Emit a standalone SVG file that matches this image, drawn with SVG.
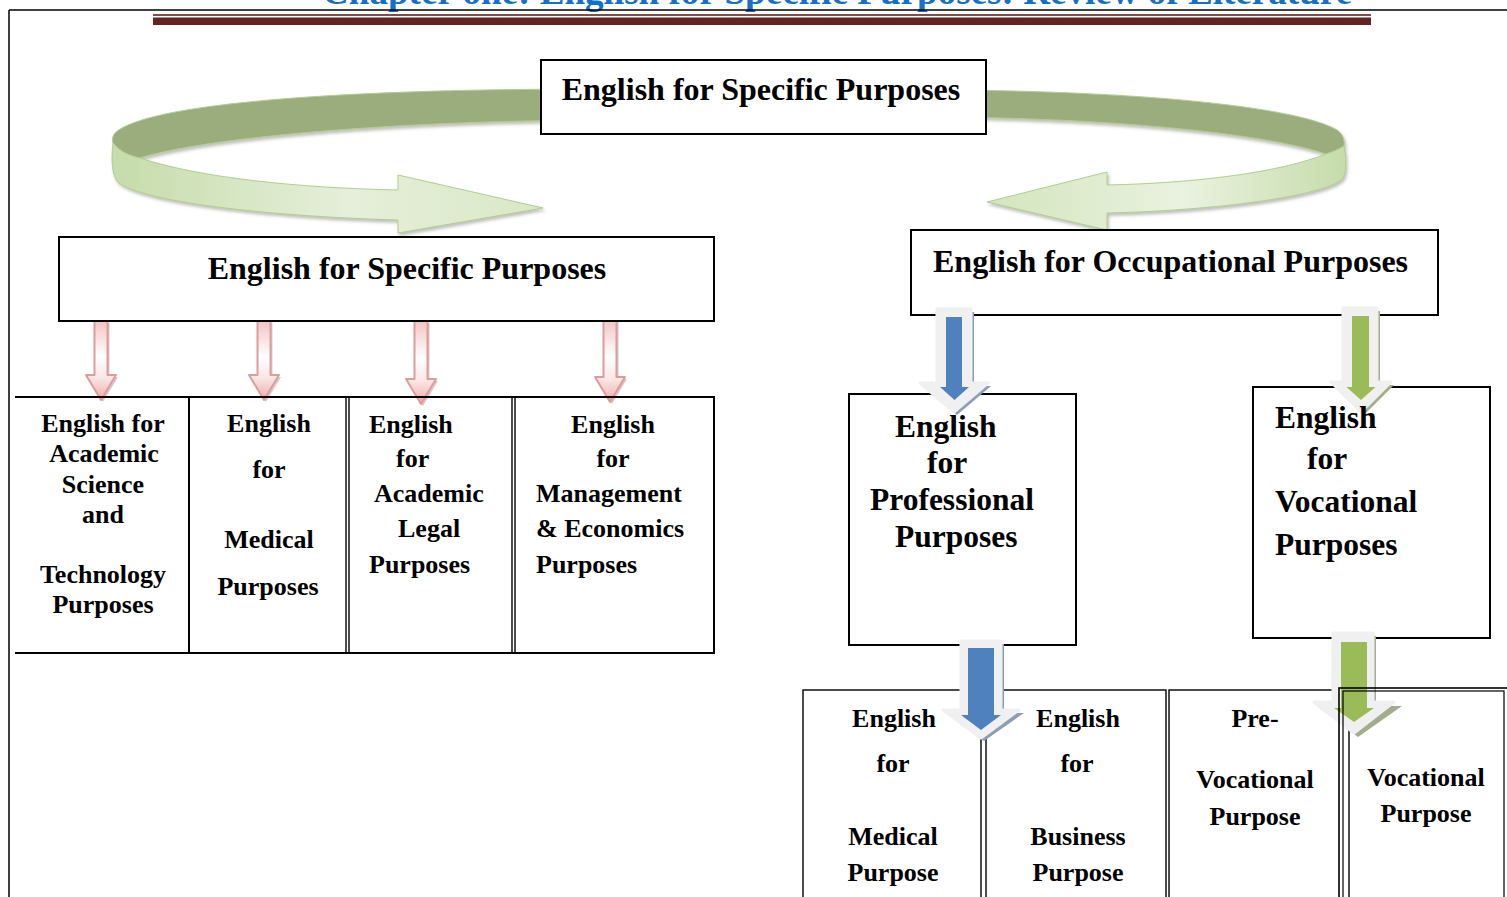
<svg xmlns="http://www.w3.org/2000/svg" width="1507" height="897" viewBox="0 0 1507 897">
  <defs>
    <style>
      text { font-family: "Liberation Serif", "Times New Roman", serif; font-weight: bold; fill: #000; }
      .h32 { font-size: 32px; }
      .t26 { font-size: 26px; }
      .t31 { font-size: 31.5px; }
      .mid { text-anchor: middle; }
      .box { fill: #fff; stroke: #000; stroke-width: 2; }
      .line { stroke: #000; stroke-width: 2; fill: none; }
      .thin { stroke: #000; stroke-width: 1.4; fill: none; }
      .ring-dark { fill: #9bad7c; stroke: #b4cc93; stroke-width: 1; }
      .ring-light { stroke: #b3cd90; stroke-width: 1; }
      .pink { fill: url(#pinkFill); stroke: #de9c9c; stroke-width: 2; stroke-linejoin: round; }
      .pink-shadow { fill: #b99a9a; opacity: 0.55; }
      .halo { fill: #f0f0f0; stroke: #f0f0f0; stroke-width: 3; stroke-linejoin: round; }
      .shadow-blue { fill: #8e9db6; }
      .shadow-green { fill: #a3ad8b; }
      .core-blue { fill: #4f81bd; }
      .core-green { fill: #9bbb59; }
    </style>
    <linearGradient id="lightLeft" x1="112" y1="0" x2="543" y2="0" gradientUnits="userSpaceOnUse">
      <stop offset="0" stop-color="#c6dcaa"/>
      <stop offset="0.55" stop-color="#e6efda"/>
      <stop offset="1" stop-color="#d9e8c6"/>
    </linearGradient>
    <linearGradient id="lightRight" x1="1346" y1="0" x2="987" y2="0" gradientUnits="userSpaceOnUse">
      <stop offset="0" stop-color="#c6dcaa"/>
      <stop offset="0.45" stop-color="#eaf2e0"/>
      <stop offset="1" stop-color="#d3e5bd"/>
    </linearGradient>
    <linearGradient id="pinkFill" x1="0" y1="0" x2="0" y2="1">
      <stop offset="0" stop-color="#f3c4c4"/>
      <stop offset="0.45" stop-color="#ffffff"/>
      <stop offset="0.72" stop-color="#fbe6e6"/>
      <stop offset="1" stop-color="#eeaaaa"/>
    </linearGradient>
    <filter id="soft" x="-10%" y="-10%" width="120%" height="130%">
      <feDropShadow dx="1.5" dy="2.5" stdDeviation="1.5" flood-color="#6f7466" flood-opacity="0.45"/>
    </filter>
  </defs>

  <!-- page header -->
  <g id="header">
    <text x="322" y="4" font-size="37" textLength="1030" lengthAdjust="spacingAndGlyphs" style="fill:#1670c4">Chapter one: English for Specific Purposes: Review of Literature</text>
    <line x1="9" y1="10" x2="1507" y2="10" stroke="#000" stroke-width="1.5"/>
    <line x1="9" y1="10" x2="9" y2="897" stroke="#000" stroke-width="1.5"/>
    <rect x="153" y="14.2" width="1218" height="1.6" fill="#632423"/>
    <rect x="153" y="17.5" width="1218" height="7.5" fill="#632423"/>
  </g>

  <!-- connectors -->
  <g id="connectors">
    <!-- curved arrow to the left branch -->
    <g id="curve-left" filter="url(#soft)">
      <path class="ring-dark" d="M600,89 C330,89 150,104 116,132 C112,136 112,140 113,143 C120,152 130,156 140,158 C200,139 380,121 600,120 Z"/>
      <path class="ring-light" fill="url(#lightLeft)" d="M113,143 C120,152 130,156 140,158 C200,178 300,188 398,190 L398,175 L543,208 L398,233 L398,220 C260,216 140,201 118,182 C112,176 111,160 113,143 Z"/>
    </g>
    <!-- curved arrow to the right branch -->
    <g id="curve-right" filter="url(#soft)">
      <path class="ring-dark" d="M940,90 C1150,91 1300,108 1337,130 C1343,134 1345,140 1344,146 C1338,150 1332,152 1326,154 C1260,132 1100,118 940,117 Z"/>
      <path class="ring-light" fill="url(#lightRight)" d="M1344,146 C1338,150 1332,152 1326,154 C1280,172 1200,183 1107,185 L1107,172 L987,202 L1107,230 L1107,213 C1230,210 1330,194 1343,178 C1347,170 1346,158 1344,146 Z"/>
    </g>

    <!-- pink arrows into the ESP table -->
    <g id="pink-arrows">
      <path class="pink-shadow" d="M96.5,323 L109.5,323 L109.5,377 L118,377 L103,402 L88,377 L96.5,377 Z"/>
      <path class="pink" d="M94.5,321 L107.5,321 L107.5,375 L116,375 L101,400 L86,375 L94.5,375 Z"/>
      <path class="pink-shadow" d="M259.5,323 L272.5,323 L272.5,377 L281,377 L266,402 L251,377 L259.5,377 Z"/>
      <path class="pink" d="M257.5,321 L270.5,321 L270.5,375 L279,375 L264,400 L249,375 L257.5,375 Z"/>
      <path class="pink-shadow" d="M416.5,323 L429.5,323 L429.5,381 L438,381 L423,406 L408,381 L416.5,381 Z"/>
      <path class="pink" d="M414.5,321 L427.5,321 L427.5,379 L436,379 L421,404 L406,379 L414.5,379 Z"/>
      <path class="pink-shadow" d="M605.5,322 L618.5,322 L618.5,379 L627,379 L612,404 L597,379 L605.5,379 Z"/>
      <path class="pink" d="M603.5,320 L616.5,320 L616.5,377 L625,377 L610,402 L595,377 L603.5,377 Z"/>
    </g>
  </g>

  <!-- top node -->
  <g id="node-esp-top">
    <rect class="box" x="541" y="60" width="445" height="74"/>
    <text class="h32 mid" x="761" y="100">English for Specific Purposes</text>
  </g>

  <!-- left branch -->
  <g id="node-esp">
    <rect class="box" x="59" y="237" width="655" height="84"/>
    <text class="h32 mid" x="407" y="279">English for Specific Purposes</text>
  </g>

  <!-- right branch -->
  <g id="node-eop">
    <rect class="box" x="911" y="230" width="527" height="85"/>
    <text class="h32" x="933" y="272">English for Occupational Purposes</text>
  </g>

  <!-- ESP sub-areas table -->
  <g id="esp-table">
    <line class="line" x1="15" y1="397" x2="715" y2="397" stroke-width="2.4"/>
    <line class="line" x1="15" y1="653" x2="715" y2="653"/>
    <line class="line" x1="189" y1="397" x2="189" y2="653"/>
    <line class="thin" x1="346" y1="397" x2="346" y2="653"/>
    <line class="thin" x1="349" y1="397" x2="349" y2="653"/>
    <line class="thin" x1="512" y1="397" x2="512" y2="653"/>
    <line class="thin" x1="515" y1="397" x2="515" y2="653"/>
    <line class="line" x1="714" y1="397" x2="714" y2="653"/>
  </g>
  <g id="node-east">
    <text class="t26 mid" x="103" y="432">English for</text>
    <text class="t26 mid" x="104" y="462">Academic</text>
    <text class="t26 mid" x="103" y="493">Science</text>
    <text class="t26 mid" x="103" y="523">and</text>
    <text class="t26 mid" x="103" y="583">Technology</text>
    <text class="t26 mid" x="103" y="613">Purposes</text>
  </g>
  <g id="node-emp">
    <text class="t26 mid" x="269" y="432">English</text>
    <text class="t26 mid" x="269" y="478">for</text>
    <text class="t26 mid" x="269" y="548">Medical</text>
    <text class="t26 mid" x="268" y="595">Purposes</text>
  </g>
  <g id="node-ealp">
    <text class="t26" x="369" y="433">English</text>
    <text class="t26" x="396" y="467">for</text>
    <text class="t26" x="374" y="502">Academic</text>
    <text class="t26" x="398" y="537">Legal</text>
    <text class="t26" x="369" y="573">Purposes</text>
  </g>
  <g id="node-emep">
    <text class="t26 mid" x="613" y="433">English</text>
    <text class="t26 mid" x="613" y="467">for</text>
    <text class="t26" x="536" y="502">Management</text>
    <text class="t26" x="536" y="537">&amp; Economics</text>
    <text class="t26" x="536" y="573">Purposes</text>
  </g>

  <!-- EOP sub-branches -->
  <g id="node-epp">
    <rect class="box" x="849" y="394" width="227" height="251" stroke-width="1.6"/>
  </g>
  <g id="node-evp">
    <rect class="box" x="1253" y="387" width="237" height="251" stroke-width="1.6"/>
  </g>

  <!-- bottom tables -->
  <g id="bottom-tables">
    <rect class="thin" x="803" y="690" width="363" height="220" stroke-width="1.8"/>
    <line class="thin" x1="981" y1="690" x2="981" y2="897"/>
    <line class="thin" x1="986" y1="690" x2="986" y2="897"/>
    <rect class="thin" x="1169" y="690" width="180" height="220" stroke-width="1.8"/>
  </g>

  <!-- block arrows of the EOP branch -->
  <g id="block-arrows">
    <!-- EOP to EPP -->
    <path class="shadow-blue" d="M940,312 L974,312 L974,386 L991,386 L957,415 L923,386 L940,386 Z"/>
    <path class="halo" d="M937,309 L971,309 L971,383 L988,383 L954,412 L920,383 L937,383 Z"/>
    <path class="core-blue" d="M946,317 L962,317 L962,387 L969,387 L954.5,400 L940,387 L946,387 Z"/>
    <!-- EOP to EVP -->
    <path class="shadow-green" d="M1346,311 L1380,311 L1380,385 L1394,385 L1364,415 L1334,385 L1346,385 Z"/>
    <path class="halo" d="M1343,308 L1377,308 L1377,382 L1391,382 L1361,412 L1331,382 L1343,382 Z"/>
    <path class="core-green" d="M1352,316 L1369,316 L1369,387 L1375.5,387 L1361,400 L1346.5,387 L1352,387 Z"/>
    <!-- EPP to its children -->
    <path class="shadow-blue" d="M964,644 L1004,644 L1004,713 L1024,713 L984,741 L946,713 L964,713 Z"/>
    <path class="halo" d="M961,641 L1001,641 L1001,710 L1019,710 L981,738 L943,710 L961,710 Z"/>
    <path class="core-blue" d="M968,648 L994,648 L994,715 L1001,715 L981,730 L961,715 L968,715 Z"/>
    <!-- EVP to its children -->
    <path class="shadow-green" d="M1336,636 L1376,636 L1376,706 L1402,706 L1358,737 L1317,706 L1336,706 Z"/>
    <path class="halo" d="M1333,633 L1373,633 L1373,702 L1394,702 L1354,733 L1314,702 L1333,702 Z"/>
    <path class="core-green" d="M1341,642 L1367,642 L1367,708 L1374,708 L1354,722 L1334,708 L1341,708 Z"/>
  </g>

  <!-- vocational purpose cell sits above the arrow -->
  <g id="node-vp">
    <rect x="1339" y="688" width="180" height="220" fill="none" stroke="#000" stroke-width="1.6"/>
    <rect x="1343" y="691" width="161" height="220" fill="none" stroke="#000" stroke-width="1.2"/>
    <text class="t26 mid" x="1426" y="786">Vocational</text>
    <text class="t26 mid" x="1426" y="822">Purpose</text>
  </g>

  <!-- labels of the EOP sub-branches -->
  <g id="labels-epp">
    <text class="t31" x="895" y="437">English</text>
    <text class="t31" x="927" y="473">for</text>
    <text class="t31" x="870" y="510">Professional</text>
    <text class="t31" x="895" y="547">Purposes</text>
  </g>
  <g id="labels-evp">
    <text class="t31" x="1275" y="428">English</text>
    <text class="t31" x="1307" y="469">for</text>
    <text class="t31" x="1275" y="512">Vocational</text>
    <text class="t31" x="1275" y="555">Purposes</text>
  </g>

  <g id="node-emp-occ">
    <text class="t26 mid" x="894" y="727">English</text>
    <text class="t26 mid" x="893" y="772">for</text>
    <text class="t26 mid" x="893" y="845">Medical</text>
    <text class="t26 mid" x="893" y="881">Purpose</text>
  </g>
  <g id="node-ebp">
    <text class="t26 mid" x="1078" y="727">English</text>
    <text class="t26 mid" x="1077" y="772">for</text>
    <text class="t26 mid" x="1078" y="845">Business</text>
    <text class="t26 mid" x="1078" y="881">Purpose</text>
  </g>
  <g id="node-pvp">
    <text class="t26 mid" x="1255" y="727">Pre-</text>
    <text class="t26 mid" x="1255" y="788">Vocational</text>
    <text class="t26 mid" x="1255" y="825">Purpose</text>
  </g>
</svg>
